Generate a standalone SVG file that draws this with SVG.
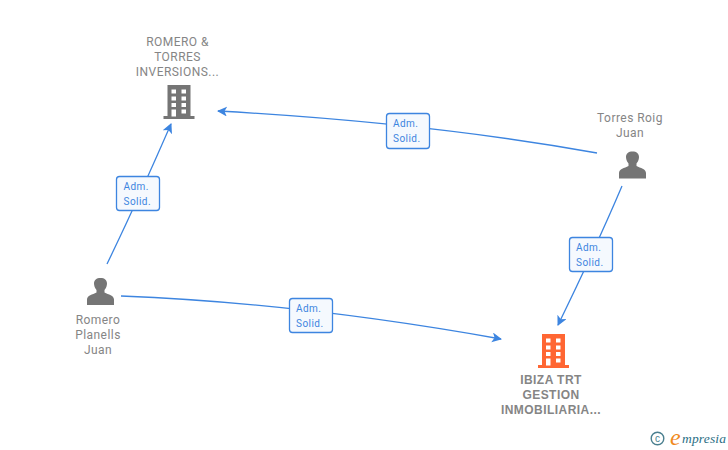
<svg xmlns="http://www.w3.org/2000/svg" width="728" height="450" viewBox="0 0 728 450">
<style>
.lbl{font-family:"Roboto","Liberation Sans",sans-serif;font-size:12px;fill:#858585;text-anchor:middle;letter-spacing:.45px}
.co{font-family:"Liberation Sans",sans-serif;font-size:12px;font-weight:bold;fill:#858585;text-anchor:middle;letter-spacing:.45px}
.edge{fill:none;stroke:#3d85e0;stroke-width:1.3;marker-end:url(#arr)}
.box{fill:#f5f9fe;stroke:#3d85e0;stroke-width:1.3}
.bt{font-family:"Roboto","Liberation Sans",sans-serif;font-size:10px;fill:#3d85e0;letter-spacing:.45px}
.p{fill:#757575}
</style>
<defs>
<marker id="arr" markerUnits="userSpaceOnUse" markerWidth="12" markerHeight="12" refX="9" refY="5" orient="auto"><path d="M0 0L10 5L0 10L2.500 5Z" fill="#3d85e0"/></marker>
<g id="person"><path class="p" d="M-13.500 13.500V8C-13.500 4-8 3-4 1V-1.500C-6-3.500-6.500-6.500-6.500-8C-6.500-11.500-4-13.500 0-13.500C4-13.500 6.500-11.500 6.500-8C6.500-6.500 6-3.500 4-1.500V1C8 3 13.500 4 13.500 8V13.500Z"/></g>
<g id="bld"><path d="M-11.500-17H11.500V14H15.500V17H-15.500V14H-11.500Z" fill="currentColor"/><g fill="#fff"><rect x="-7.500" y="-12.500" width="4.500" height="4"/><rect x="2.500" y="-12.500" width="4.500" height="4"/><rect x="-7.500" y="-5.500" width="4.500" height="4"/><rect x="2.500" y="-5.500" width="4.500" height="4"/><rect x="-7.500" y="1" width="4.500" height="4"/><rect x="2.500" y="1" width="4.500" height="4"/><rect x="-7.500" y="7.500" width="4.500" height="7"/><rect x="2.500" y="7.500" width="4.500" height="4"/></g></g>
</defs>
<g id="connectors">
<path class="edge" d="M107 264Q137 202 171 124"/>
<path class="edge" d="M597 153Q430 123 218 111"/>
<path class="edge" d="M622 186Q597 245 558 325"/>
<path class="edge" d="M121 296Q300 303 501 339"/>
</g>
<g id="edge-labels">
<g id="l1"><rect class="box" x="116.500" y="176.500" width="43" height="34" rx="3"/><text class="bt" x="123.500" y="190">Adm.</text><text class="bt" x="123.500" y="205">Solid.</text></g>
<g id="l2"><rect class="box" x="386.500" y="113.500" width="43" height="35" rx="3"/><text class="bt" x="393" y="127">Adm.</text><text class="bt" x="393" y="142">Solid.</text></g>
<g id="l3"><rect class="box" x="569.500" y="237.500" width="43" height="34" rx="3"/><text class="bt" x="576" y="251">Adm.</text><text class="bt" x="576" y="266">Solid.</text></g>
<g id="l4"><rect class="box" x="289.500" y="298.500" width="43" height="34" rx="3"/><text class="bt" x="296" y="312">Adm.</text><text class="bt" x="296" y="327">Solid.</text></g>
</g>
<g id="n-romero-torres"><use href="#bld" x="179" y="102" color="#757575"/><text class="lbl" x="177.500" y="46">ROMERO &amp;</text><text class="lbl" x="177.500" y="61">TORRES</text><text class="lbl" x="177.500" y="76">INVERSIONS...</text></g>
<g id="n-torres-roig"><use href="#person" x="632.500" y="165"/><text class="lbl" x="630" y="122">Torres Roig</text><text class="lbl" x="630" y="137">Juan</text></g>
<g id="n-romero-planells"><use href="#person" x="100.500" y="291.500"/><text class="lbl" x="98" y="324">Romero</text><text class="lbl" x="98" y="339">Planells</text><text class="lbl" x="98" y="354">Juan</text></g>
<g id="n-ibiza"><use href="#bld" x="553.500" y="351" color="#ff6633"/><text class="co" x="551" y="384">IBIZA TRT</text><text class="co" x="551" y="399">GESTION</text><text class="co" x="551" y="414">INMOBILIARIA...</text></g>
<g id="brand"><circle cx="657.500" cy="438.500" r="6.300" fill="none" stroke="#4a7f8f" stroke-width="1.400"/><text x="657.500" y="442" font-family="Liberation Sans,sans-serif" font-size="10" fill="#4a7f8f" text-anchor="middle">c</text><text x="670" y="445" font-family="Liberation Serif,serif" font-style="italic" font-size="24" fill="#f08a1d">e</text><text x="682" y="443" font-family="Liberation Serif,serif" font-style="italic" font-size="13.500" fill="#2a6f85" textLength="44">mpresia</text></g>
</svg>
